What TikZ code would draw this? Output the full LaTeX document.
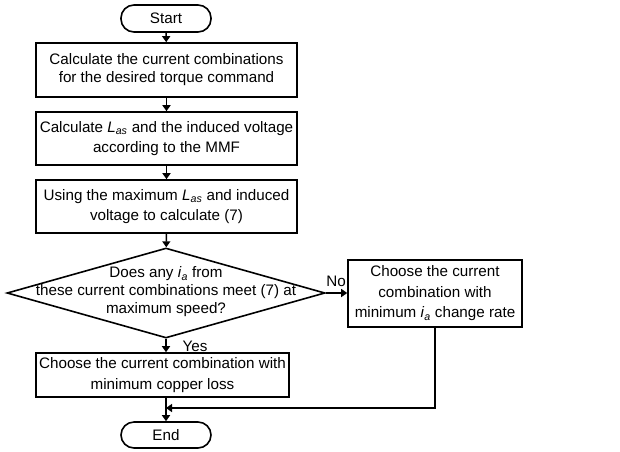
\documentclass[tikz,border=0pt]{standalone}
\usepackage{fontspec}
\setmainfont{Liberation Sans}
\usetikzlibrary{arrows.meta}
\usetikzlibrary{shapes.geometric}

\newcommand{\ia}{\textit{i}\textsubscript{\textit{a}}}
\newcommand{\Las}{\textit{L}\textsubscript{\textit{as}}}

\begin{document}
\begin{tikzpicture}[x=1pt, y=-1pt,
	font=\fontsize{15.2}{18}\selectfont,
	box/.style={draw, line width=1.6pt, align=center, inner sep=0pt},
	loose/.style={font=\fontsize{15.2}{20.5}\selectfont},
	term/.style={box, rounded corners=13pt, minimum width=90pt, minimum height=27pt},
	decision/.style={draw, diamond, line width=1.6pt, inner sep=0pt, minimum width=318pt, minimum height=90pt},
	arr/.style={line width=1.5pt, -{Triangle[length=6pt, width=8pt]}}]
	\useasboundingbox (0,0) rectangle (620,451);
	
	% draw the boxes of the main column
	\node [term] (start) at (166, 18.5) {Start};
	\node [box, minimum width=261pt, minimum height=54pt] (combos) at (166.5, 70) {Calculate the current combinations\\for the desired torque command};
	\node [box, loose, minimum width=261pt, minimum height=53pt] (mmf) at (166.5, 138.5) {Calculate \Las{} and the induced voltage\\according to the MMF};
	\node [box, loose, minimum width=261pt, minimum height=53pt] (maxlas) at (166.5, 206.5) {Using the maximum \Las{} and induced\\voltage to calculate (7)};
	\node [decision] (check) at (166, 293) {};
	\node [align=center] (question) at (166, 292) {Does any \ia{} from\\these current combinations meet (7) at\\maximum speed?};
	\node [box, loose, minimum width=174pt, minimum height=67pt] (rate) at (435, 293.5) {Choose the current\\combination with\\minimum \ia{} change rate};
	\node [box, loose, minimum width=253pt, minimum height=44pt] (loss) at (162.5, 375) {Choose the current combination with\\minimum copper loss};
	\node [term, minimum height=26pt] (stop) at (166, 435) {End};
	
	% write branch labels
	\node (no) at (336, 281) {No};
	\node (yes) at (195, 346) {Yes};
	
	% draw arrows
	\coordinate (merge) at (166, 408);
	\draw [arr] (start) -- (combos);
	\draw [arr] (combos) -- (mmf);
	\draw [arr] (mmf) -- (maxlas);
	\draw [arr] (maxlas) -- (check);
	\draw [arr] (check.east) -- (check.east -| rate.west);
	\draw [arr] (check.south) -- (loss.north -| check.south);
	\draw [arr] (rate.south) |- (merge);
	\draw [arr] (loss.south -| stop.north) -- (stop.north);
\end{tikzpicture}
\end{document}
